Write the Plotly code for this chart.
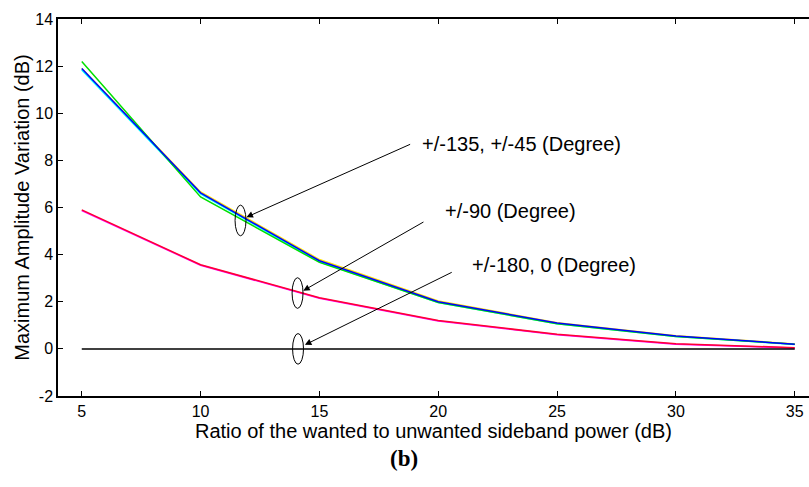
import plotly.graph_objects as go

# ---- data ----
ratio_db = [5, 10, 15, 20, 25, 30, 35]
yellow_135 = [11.90, 6.66, 3.79, 2.03, 1.11, 0.56, 0.21]
cyan_45 = [11.84, 6.58, 3.70, 1.97, 1.07, 0.53, 0.19]
green_m135 = [12.20, 6.45, 3.67, 1.97, 1.07, 0.53, 0.20]
blue_m45 = [11.90, 6.62, 3.74, 2.00, 1.10, 0.55, 0.20]
magenta_90 = [5.87, 3.55, 2.15, 1.18, 0.60, 0.20, 0.04]
red_m90 = [5.90, 3.57, 2.17, 1.20, 0.62, 0.22, 0.05]
black_180_0 = [0, 0, 0, 0, 0, 0, 0]

x_ticks = [5, 10, 15, 20, 25, 30, 35]
y_ticks = [-2, 0, 2, 4, 6, 8, 10, 12, 14]
y_tick_text = ["-2", "0", "2", "4", "6", "8", "10", "12", "14"]

labels = ["+/-135, +/-45 (Degree)", "+/-90 (Degree)", "+/-180, 0 (Degree)"]
label_pos = [(19.22, 8.68), (20.18, 5.84), (21.35, 3.55)]
arrow_tail = [(18.88, 8.71), (19.44, 5.42), (20.63, 3.28)]
arrow_head = [(11.93, 5.59), (14.32, 2.47), (14.39, 0.17)]
ellipse_ctr = [(11.68, 5.45), (14.08, 2.37), (14.10, 0.0)]

FONT = "Liberation Sans"

fig = go.Figure()
series = [
    (yellow_135, "#FFE000"),
    (cyan_45, "#00FFFF"),
    (green_m135, "#00E000"),
    (blue_m45, "#0000FF"),
    (magenta_90, "#FF00FF"),
    (red_m90, "#FF0033"),
    (black_180_0, "#000000"),
]
for ys, col in series:
    fig.add_trace(go.Scatter(x=ratio_db, y=ys, mode="lines",
                             line=dict(color=col, width=1.5),
                             showlegend=False, hoverinfo="skip"))

shapes = []
for cx, cy in ellipse_ctr:
    shapes.append(dict(type="circle", xref="x", yref="y",
                       x0=cx - 0.23, x1=cx + 0.23, y0=cy - 0.65, y1=cy + 0.65,
                       line=dict(color="black", width=1)))

annotations = []
for (hx, hy), (tx, ty) in zip(arrow_head, arrow_tail):
    annotations.append(dict(x=hx, y=hy, ax=tx, ay=ty, xref="x", yref="y",
                            axref="x", ayref="y", text="", showarrow=True,
                            arrowhead=2, arrowsize=1.3, arrowwidth=1,
                            arrowcolor="black", standoff=0))
for txt, (lx, ly) in zip(labels, label_pos):
    annotations.append(dict(x=lx, y=ly, xref="x", yref="y", text=txt,
                            showarrow=False, xanchor="left", yanchor="middle",
                            font=dict(family=FONT, size=20, color="black")))
annotations.append(dict(x=0.4607, y=-0.165, xref="paper", yref="paper",
                        text="<b>(b)</b>", showarrow=False,
                        xanchor="center", yanchor="middle",
                        font=dict(family="Liberation Serif", size=23,
                                  color="black")))

fig.update_layout(
    width=809, height=487,
    margin=dict(l=58, r=0, t=19, b=91),
    paper_bgcolor="white", plot_bgcolor="white",
    shapes=shapes, annotations=annotations,
    font=dict(family=FONT, color="black"),
)
fig.update_xaxes(
    range=[4, 35.6], tickvals=x_ticks, ticks="inside", ticklen=5,
    tickcolor="black", showline=True, linecolor="black", linewidth=1.5,
    mirror="ticks", showgrid=False, zeroline=False,
    tickfont=dict(family=FONT, size=16),
    title=dict(text="Ratio of the wanted to unwanted sideband power (dB)",
               font=dict(family=FONT, size=20), standoff=0),
)
fig.update_yaxes(
    range=[-2, 14], tickvals=y_ticks, ticktext=y_tick_text,
    ticks="inside", ticklen=5,
    tickcolor="black", showline=True, linecolor="black", linewidth=1.5,
    mirror=False, showgrid=False, zeroline=False,
    tickfont=dict(family=FONT, size=16),
    title=dict(text="Maximum Amplitude Variation (dB)",
               font=dict(family=FONT, size=20), standoff=0),
)

fig.write_html("out.html")
